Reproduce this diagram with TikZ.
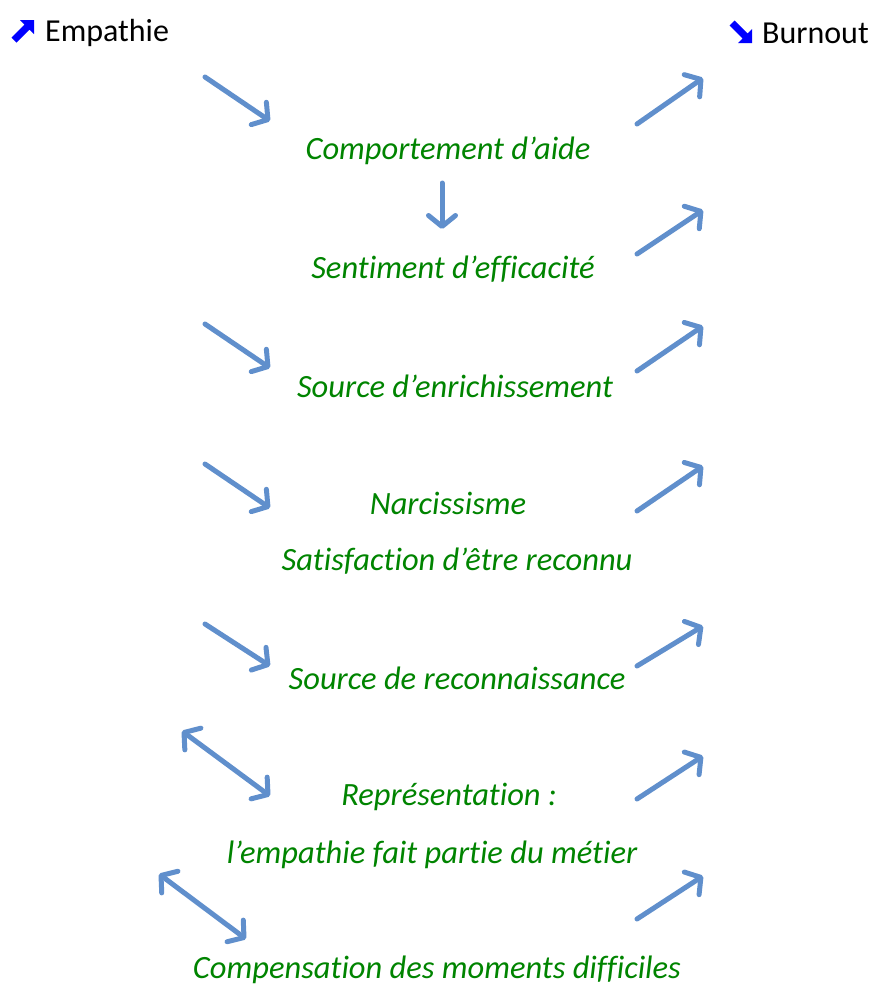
\documentclass[tikz,border=0pt]{standalone}
\usepackage{fontspec}
\setmainfont{Carlito}[Ligatures={NoCommon}]
\usetikzlibrary{arrows.meta}
\definecolor{arrblue}{RGB}{96,143,204}
\definecolor{txtgreen}{RGB}{0,132,0}
\definecolor{iconblue}{RGB}{0,0,255}
\begin{document}
\begin{tikzpicture}[x=1pt,y=-1pt,
  lbl/.style={font=\fontsize{32.5}{38}\selectfont\itshape, text=txtgreen, inner sep=0pt},
  hdr/.style={font=\fontsize{32}{38}\selectfont, text=black, inner sep=0pt, anchor=west},
  barrow/.style={line width=5pt, draw=arrblue, line cap=round, -{Straight Barb[length=11pt,width=27pt,round]}},
  darrow/.style={line width=5pt, draw=arrblue, line cap=round, {Straight Barb[length=11pt,width=27pt,round]}-{Straight Barb[length=11pt,width=27pt,round]}}
]
\useasboundingbox (0,0) rectangle (872,985);
% header icons
\fill[iconblue] (34,20) -- (20,20) -- (24.5,24.5) -- (11.5,37.5) -- (16.5,42.5) -- (29.5,29.5) -- (34,34) -- cycle;
\node[hdr] (emp) at (45,33) {Empathie};
\fill[iconblue] (752,43) -- (738,43) -- (742.5,38.5) -- (729.5,25.5) -- (734.5,20.5) -- (747.5,33.5) -- (752,29) -- cycle;
\node[hdr] (burn) at (762,33) {Burnout};
% labels
\node[lbl] (n1) at (448,151) {Comportement d’aide};
\node[lbl] (n2) at (453,269) {Sentiment d’efficacité};
\node[lbl] (n3) at (455,386) {Source d’enrichissement};
\node[lbl] (n4) at (448,503) {Narcissisme};
\node[lbl] (n5) at (457,561) {Satisfaction d’être reconnu};
\node[lbl] (n6) at (457,678) {Source de reconnaissance};
\node[lbl] (n7) at (449,797) {Représentation :};
\node[lbl] (n8) at (432,855) {l’empathie fait partie du métier};
\node[lbl] (n9) at (437,970) {Compensation des moments difficiles};
% arrow coordinates
\coordinate (l1a) at (205,77);  \coordinate (l1b) at (270,121);
\coordinate (l3a) at (205,324); \coordinate (l3b) at (270,368);
\coordinate (l4a) at (205,464); \coordinate (l4b) at (270,508);
\coordinate (l6a) at (205,624); \coordinate (l6b) at (270,666);
\coordinate (l7a) at (182,731); \coordinate (l7b) at (270,796);
\coordinate (l9a) at (159,874); \coordinate (l9b) at (246,939);
\coordinate (da) at (442,183); \coordinate (db) at (442,229);
\coordinate (r1a) at (637,124); \coordinate (r1b) at (703,78);
\coordinate (r2a) at (637,254); \coordinate (r2b) at (703,210);
\coordinate (r3a) at (637,371); \coordinate (r3b) at (703,326);
\coordinate (r4a) at (637,511); \coordinate (r4b) at (703,466);
\coordinate (r6a) at (637,666); \coordinate (r6b) at (703,626);
\coordinate (r7a) at (637,799); \coordinate (r7b) at (703,756);
\coordinate (r9a) at (637,919); \coordinate (r9b) at (703,876);
\draw[barrow] (l1a) -- (l1b);
\draw[barrow] (l3a) -- (l3b);
\draw[barrow] (l4a) -- (l4b);
\draw[barrow] (l6a) -- (l6b);
\draw[darrow] (l7a) -- (l7b);
\draw[darrow] (l9a) -- (l9b);
\draw[barrow] (da) -- (db);
\draw[barrow] (r1a) -- (r1b);
\draw[barrow] (r2a) -- (r2b);
\draw[barrow] (r3a) -- (r3b);
\draw[barrow] (r4a) -- (r4b);
\draw[barrow] (r6a) -- (r6b);
\draw[barrow] (r7a) -- (r7b);
\draw[barrow] (r9a) -- (r9b);
\end{tikzpicture}
\end{document}
